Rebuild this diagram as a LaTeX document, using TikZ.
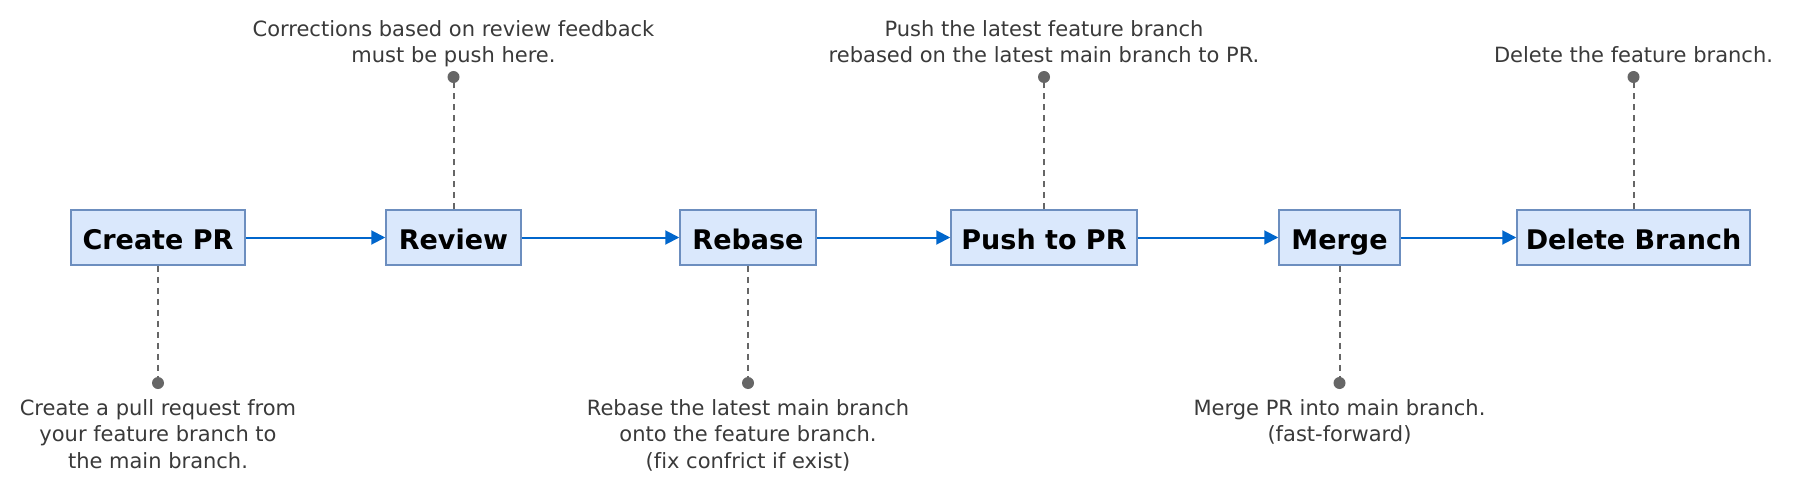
\documentclass[tikz,border=0pt]{standalone}
\usepackage{fontspec}
\setmainfont{DejaVu Sans}[Ligatures=NoCommon]
\usetikzlibrary{arrows.meta}
\definecolor{boxfill}{HTML}{DAE8FC}
\definecolor{boxline}{HTML}{6C8EBF}
\definecolor{flow}{HTML}{0066CC}
\definecolor{note}{HTML}{666666}
\definecolor{notetext}{HTML}{3A3A3A}
\begin{document}
\begin{tikzpicture}[x=1pt,y=-1pt,
 stepbox/.style={draw=boxline, fill=boxfill, line width=1.5pt, minimum height=55pt, inner sep=0pt, text height=27pt, text depth=3pt, font=\fontsize{27}{32}\selectfont\bfseries, text=black},
 flowarrow/.style={draw=flow, line width=2pt, -{Triangle[length=14pt,width=14pt]}},
 noteline/.style={draw=note, line width=2pt, dash pattern=on 6pt off 5pt},
 notedot/.style={circle, fill=note, inner sep=0pt, minimum size=12pt},
 notetext/.style={text=notetext, align=center, inner sep=0pt, anchor=base, font=\fontsize{21}{26.5}\selectfont}]
\useasboundingbox (0,0) rectangle (1793,487);
\fill[white] (0,0) rectangle (1793,487);

\node[stepbox, minimum width=174pt] (create) at (158,237.5) {Create PR};
\node[stepbox, minimum width=135pt] (review) at (453.5,237.5) {Review};
\node[stepbox, minimum width=136pt] (rebase) at (748,237.5) {Rebase};
\node[stepbox, minimum width=186pt] (push) at (1044,237.5) {Push to PR};
\node[stepbox, minimum width=121pt] (merge) at (1339.5,237.5) {Merge};
\node[stepbox, minimum width=233pt] (delete) at (1633.5,237.5) {Delete Branch};

\draw[flowarrow] (create) -- (review);
\draw[flowarrow] (review) -- (rebase);
\draw[flowarrow] (rebase) -- (push);
\draw[flowarrow] (push) -- (merge);
\draw[flowarrow] (merge) -- (delete);

\node[notedot] (dcreate) at (158,383) {};
\node[notedot] (dreview) at (453.5,77) {};
\node[notedot] (drebase) at (748,383) {};
\node[notedot] (dpush) at (1044,77) {};
\node[notedot] (dmerge) at (1339.5,383) {};
\node[notedot] (ddelete) at (1633.5,77) {};

\draw[noteline] (create.south) -- (dcreate.center);
\draw[noteline] (review.north) -- (dreview.center);
\draw[noteline] (rebase.south) -- (drebase.center);
\draw[noteline] (push.north) -- (dpush.center);
\draw[noteline] (merge.south) -- (dmerge.center);
\draw[noteline] (delete.north) -- (ddelete.center);

\node[notetext] (tcreate) at (158,468) {Create a pull request from\\your feature branch to\\the main branch.};
\node[notetext] (treview) at (453.5,63) {Corrections based on review feedback\\must be push here.};
\node[notetext] (trebase) at (748,468) {Rebase the latest main branch\\onto the feature branch.\\(fix confrict if exist)};
\node[notetext] (tpush) at (1044,63) {Push the latest feature branch\\rebased on the latest main branch to PR.};
\node[notetext] (tmerge) at (1339.5,441.5) {Merge PR into main branch.\\(fast-forward)};
\node[notetext] (tdelete) at (1633.5,63) {Delete the feature branch.};
\end{tikzpicture}
\end{document}
